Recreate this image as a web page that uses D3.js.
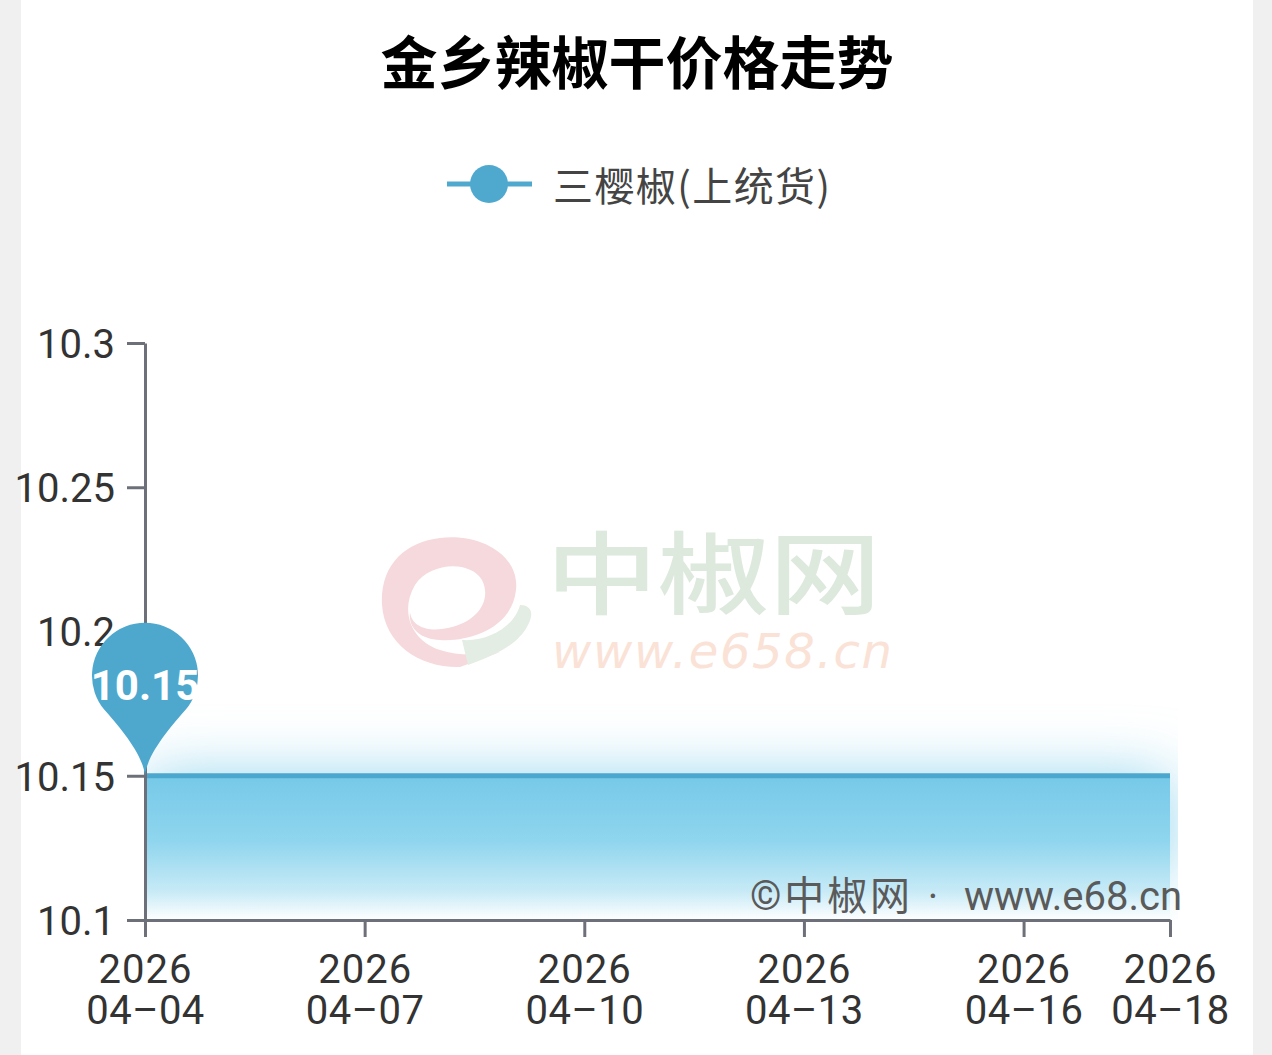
<!DOCTYPE html>
<html><head><meta charset="utf-8">
<script src="https://cdn.jsdelivr.net/npm/d3@7/dist/d3.min.js"></script>
<style>body{margin:0;background:#f0f0f0;}svg{display:block;}</style>
</head><body>
<svg id="c" width="1272" height="1055"></svg>
<script>
const title = "金乡辣椒干价格走势";
const seriesName = "三樱椒(上统货)";
const dates = ["2026-04-04","2026-04-05","2026-04-06","2026-04-07","2026-04-08","2026-04-09","2026-04-10","2026-04-11","2026-04-12","2026-04-13","2026-04-14","2026-04-15","2026-04-16","2026-04-17","2026-04-18"];
const values = [10.15,10.15,10.15,10.15,10.15,10.15,10.15,10.15,10.15,10.15,10.15,10.15,10.15,10.15,10.15];
const yTicks = [10.1,10.15,10.2,10.25,10.3];
const yTickLabels = ["10.1","10.15","10.2","10.25","10.3"];
const xTicks = ["2026-04-04","2026-04-07","2026-04-10","2026-04-13","2026-04-16","2026-04-18"];
const pinLabel = "10.15";
const copyrightParts = ["©中椒网", "·", "www.e68.cn"];

const parse = d3.timeParse("%Y-%m-%d");
const data = dates.map((d,i)=>({date:parse(d), v:values[i]}));
const svg = d3.select("#c");
const font = "Roboto, 'Noto Sans CJK SC', sans-serif";
const cjk = "'Noto Sans CJK SC', sans-serif";

svg.append("rect").attr("width",1272).attr("height",1055).attr("fill","#f0f0f0");
svg.append("rect").attr("x",21).attr("y",0).attr("width",1232).attr("height",1055).attr("fill","#ffffff");

const x = d3.scaleTime().domain([parse(xTicks[0]), parse(xTicks[xTicks.length-1])]).range([145,1170]);
const y = d3.scaleLinear().domain([10.1,10.3]).range([920,343]);

const defs = svg.append("defs");
const grad = defs.append("linearGradient").attr("id","ag").attr("x1",0).attr("y1",0).attr("x2",0).attr("y2",1);
grad.append("stop").attr("offset","0%").attr("stop-color","#76c9e8");
grad.append("stop").attr("offset","45%").attr("stop-color","#8fd5ee");
grad.append("stop").attr("offset","80%").attr("stop-color","#c7eaf6");
grad.append("stop").attr("offset","100%").attr("stop-color","#ffffff");
const f = defs.append("filter").attr("id","blur").attr("x","-20%").attr("y","-150%").attr("width","140%").attr("height","400%");
f.append("feGaussianBlur").attr("stdDeviation",30);
defs.append("clipPath").attr("id","gclip").append("rect").attr("x",145).attr("y",600).attr("width",1033).attr("height",320);

// watermark
const wm = svg.append("g");
wm.append("path").attr("fill","#f6d9dc")
  .attr("d","M 440 538 C 480 533 520 555 516 590 C 512 628 470 642 440 640 C 420 639 408 628 410 612 C 412 628 430 632 448 628 C 478 622 492 600 482 580 C 470 560 430 562 415 585 C 400 610 410 640 440 650 C 460 657 485 654 500 652 L 460 667 C 420 668 385 645 382 605 C 380 565 405 542 440 538 Z");
wm.append("path").attr("fill","#e3ede3")
  .attr("d","M 462 640 C 490 642 515 625 520 605 C 530 605 535 612 528 625 C 518 645 495 655 468 665 Z");
wm.append("text").attr("transform","translate(546,607) scale(1.24,1)").attr("font-family",cjk).attr("font-weight",500).attr("font-size",90).attr("fill","#dde9dd").text("中椒网");
wm.append("text").attr("x",552).attr("y",668).attr("font-family","'DejaVu Sans', sans-serif").attr("font-style","italic").attr("font-size",48).attr("fill","#fae2d6").attr("textLength",340).text("www.e658.cn");

// area glow + area
const area = d3.area().x(d=>x(d.date)).y0(y(10.1)).y1(d=>y(d.v));
const glowArea = d3.area().x(d=>x(d.date)).y0(y(10.115)).y1(d=>y(d.v));
svg.append("g").attr("clip-path","url(#gclip)").append("path").datum(data)
  .attr("d",glowArea).attr("fill","#94d5ee").attr("filter","url(#blur)");
svg.append("path").datum(data).attr("d",area).attr("fill","url(#ag)");

// copyright
const cp = svg.append("g").attr("font-family",font).attr("font-size",40).attr("fill","#5a5a5a");
cp.append("text").attr("x",750).attr("y",896).attr("dominant-baseline","central").attr("textLength",160).text(copyrightParts[0]);
cp.append("text").attr("x",933).attr("y",896).attr("text-anchor","middle").attr("dominant-baseline","central").text(copyrightParts[1]);
cp.append("text").attr("x",1182).attr("y",896).attr("text-anchor","end").attr("dominant-baseline","central").text(copyrightParts[2]);

// line
svg.append("path").datum(data).attr("d",d3.line().x(d=>x(d.date)).y(d=>y(d.v)))
  .attr("fill","none").attr("stroke","#4ba7cd").attr("stroke-width",5);

// axes
const axisColor = "#6e7079";
const ya = svg.append("g").attr("transform","translate(145,0)")
  .call(d3.axisLeft(y).tickValues(yTicks).tickFormat((d,i)=>yTickLabels[i]).tickSize(18).tickSizeOuter(0).tickPadding(12));
ya.select(".domain").attr("stroke",axisColor).attr("stroke-width",3);
ya.selectAll(".tick line").attr("stroke",axisColor).attr("stroke-width",3);
ya.selectAll(".tick text").attr("font-family",font).attr("font-size",40).attr("fill","#333").attr("dy","0.36em");

const xa = svg.append("g").attr("transform","translate(0,920)")
  .call(d3.axisBottom(x).tickValues(xTicks.map(parse)).tickFormat("").tickSize(17).tickSizeOuter(0));
xa.select(".domain").attr("stroke",axisColor).attr("stroke-width",3);
xa.selectAll(".tick line").attr("stroke",axisColor).attr("stroke-width",3);
xa.selectAll(".tick").each(function(d){
  const g = d3.select(this);
  g.append("text").attr("text-anchor","middle").attr("font-family",font).attr("font-size",40).attr("fill","#333")
    .attr("y",63).attr("letter-spacing",1).text(d3.timeFormat("%Y")(d));
  g.append("text").attr("text-anchor","middle").attr("font-family",font).attr("font-size",40).attr("fill","#333")
    .attr("y",104).attr("letter-spacing",0.5).text(d3.timeFormat("%m-%d")(d).replace("-","–"));
});

// pin marker
const px = x(data[0].date), py = y(data[0].v);
const pin = svg.append("g").attr("transform",`translate(${px},${py})`);
const r = 53, cy = -100, a = 40*Math.PI/180;
const sx = r*Math.cos(a), sy = cy + r*Math.sin(a);
pin.append("path").attr("fill","#4ea8ce")
  .attr("d",`M 0 0 C -2 -22 ${-sx+14} ${sy+16} ${-sx} ${sy} A ${r} ${r} 0 1 1 ${sx} ${sy} C ${sx-14} ${sy+16} 2 -22 0 0 Z`);
pin.append("text").attr("x",0).attr("y",cy+10).attr("text-anchor","middle").attr("dominant-baseline","central")
  .attr("font-family",font).attr("font-weight",700).attr("font-size",42).attr("fill","#fff").text(pinLabel);

// title
svg.append("text").attr("x",637).attr("y",59).attr("text-anchor","middle").attr("dominant-baseline","central")
  .attr("font-family",cjk).attr("font-weight",700).attr("font-size",57).attr("fill","#000").text(title);

// legend
svg.append("line").attr("x1",447).attr("x2",532).attr("y1",184).attr("y2",184).attr("stroke","#4fa9cf").attr("stroke-width",5);
svg.append("circle").attr("cx",489).attr("cy",184).attr("r",19).attr("fill","#4fa9cf");
svg.append("text").attr("x",553).attr("y",184).attr("dominant-baseline","central")
  .attr("font-family",cjk).attr("font-size",40).attr("textLength",277).attr("fill","#444").text(seriesName);
</script>
</body></html>
